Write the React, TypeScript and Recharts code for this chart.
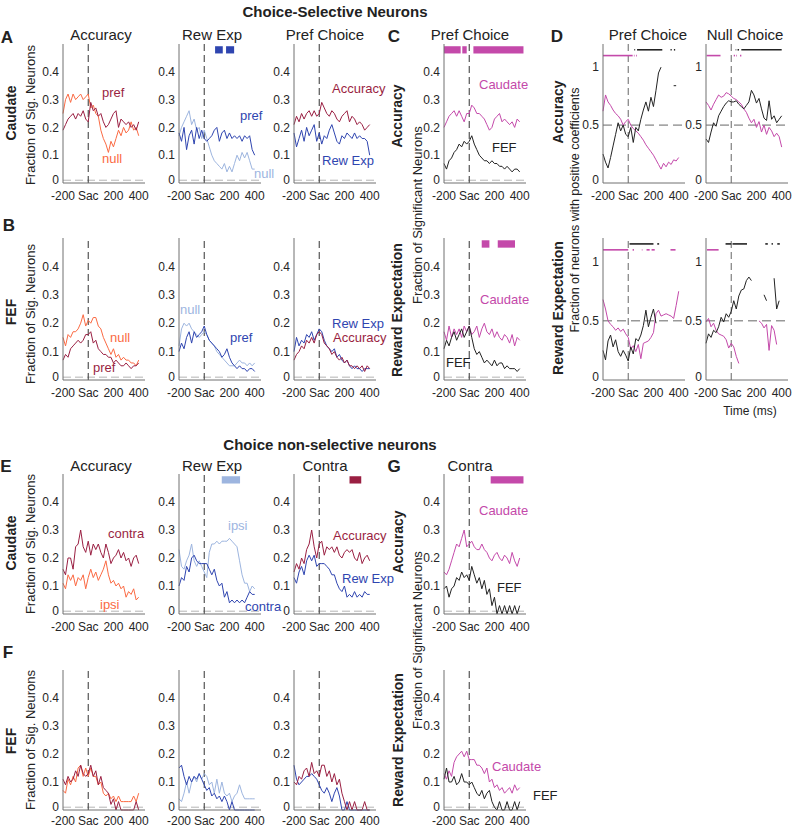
import React from 'react';
import { LineChart, Line, XAxis, YAxis, ReferenceLine, ReferenceArea } from 'recharts';

// time bins (ms from saccade)
const TIMES = [-200, -180, -160, -140, -120, -100, -80, -60, -40, -20, 0, 20, 40, 60, 80, 100, 120, 140, 160, 180, 200, 220, 240, 260, 280, 300, 320, 340, 360, 380, 400];
const X_TICKS = [-200, 0, 200, 400];
const FRAC_TICKS = [0, 0.1, 0.2, 0.3, 0.4];
const COEF_TICKS = [0, 0.5, 1];

// A: caudate, choice-selective
const accPrefCd = [0.19, 0.21, 0.23, 0.24, 0.25, 0.23, 0.25, 0.24, 0.26, 0.23, 0.22, 0.29, 0.26, 0.27, 0.24, 0.25, 0.22, 0.20, 0.21, 0.23, 0.25, 0.26, 0.20, 0.23, 0.22, 0.21, 0.22, 0.20, 0.21, 0.19, 0.22];
const accNullCd = [0.25, 0.30, 0.32, 0.29, 0.32, 0.30, 0.31, 0.32, 0.30, 0.31, 0.32, 0.27, 0.28, 0.25, 0.24, 0.19, 0.16, 0.14, 0.11, 0.15, 0.13, 0.16, 0.19, 0.17, 0.20, 0.18, 0.19, 0.22, 0.19, 0.20, 0.17];
const rewPrefCd = [0.18, 0.15, 0.20, 0.12, 0.17, 0.19, 0.14, 0.20, 0.16, 0.19, 0.16, 0.15, 0.16, 0.17, 0.19, 0.20, 0.15, 0.18, 0.19, 0.16, 0.18, 0.16, 0.17, 0.16, 0.17, 0.15, 0.17, 0.16, 0.17, 0.12, 0.10];
const rewNullCd = [0.17, 0.20, 0.22, 0.24, 0.26, 0.21, 0.23, 0.19, 0.20, 0.16, 0.19, 0.16, 0.13, 0.10, 0.08, 0.07, 0.06, 0.05, 0.07, 0.04, 0.06, 0.04, 0.07, 0.10, 0.08, 0.11, 0.09, 0.11, 0.08, 0.05, 0.05];
const prefAccCd = [0.21, 0.24, 0.22, 0.25, 0.23, 0.25, 0.26, 0.24, 0.26, 0.24, 0.25, 0.29, 0.27, 0.25, 0.24, 0.26, 0.25, 0.23, 0.22, 0.24, 0.25, 0.26, 0.22, 0.24, 0.23, 0.21, 0.22, 0.21, 0.19, 0.20, 0.21];
const prefRewCd = [0.18, 0.13, 0.16, 0.19, 0.15, 0.20, 0.17, 0.19, 0.21, 0.15, 0.18, 0.14, 0.17, 0.16, 0.19, 0.21, 0.18, 0.15, 0.14, 0.17, 0.16, 0.18, 0.17, 0.16, 0.18, 0.16, 0.17, 0.16, 0.16, 0.15, 0.10];

// B: FEF, choice-selective
const accNullFef = [0.15, 0.12, 0.16, 0.15, 0.17, 0.17, 0.18, 0.20, 0.23, 0.19, 0.21, 0.20, 0.22, 0.22, 0.19, 0.18, 0.15, 0.13, 0.11, 0.09, 0.11, 0.08, 0.09, 0.07, 0.08, 0.07, 0.07, 0.06, 0.06, 0.05, 0.07];
const accPrefFef = [0.07, 0.09, 0.08, 0.11, 0.12, 0.13, 0.14, 0.13, 0.14, 0.16, 0.16, 0.17, 0.13, 0.14, 0.11, 0.10, 0.09, 0.09, 0.08, 0.08, 0.06, 0.07, 0.06, 0.05, 0.05, 0.06, 0.05, 0.04, 0.05, 0.05, 0.06];
const rewNullFef = [0.12, 0.18, 0.20, 0.19, 0.20, 0.18, 0.17, 0.16, 0.15, 0.16, 0.17, 0.16, 0.14, 0.13, 0.12, 0.10, 0.09, 0.08, 0.07, 0.06, 0.05, 0.05, 0.05, 0.06, 0.07, 0.06, 0.06, 0.05, 0.06, 0.05, 0.06];
const rewPrefFef = [0.10, 0.13, 0.11, 0.15, 0.17, 0.13, 0.17, 0.15, 0.16, 0.17, 0.19, 0.16, 0.14, 0.13, 0.12, 0.11, 0.10, 0.08, 0.09, 0.11, 0.08, 0.06, 0.05, 0.04, 0.05, 0.04, 0.04, 0.03, 0.04, 0.04, 0.03];
const prefRewFef = [0.10, 0.15, 0.12, 0.14, 0.13, 0.16, 0.15, 0.17, 0.14, 0.16, 0.18, 0.17, 0.14, 0.12, 0.11, 0.10, 0.11, 0.08, 0.09, 0.07, 0.06, 0.07, 0.05, 0.04, 0.05, 0.04, 0.04, 0.03, 0.04, 0.04, 0.04];
const prefAccFef = [0.07, 0.09, 0.10, 0.12, 0.11, 0.14, 0.13, 0.15, 0.13, 0.16, 0.17, 0.16, 0.13, 0.12, 0.11, 0.09, 0.10, 0.08, 0.07, 0.08, 0.06, 0.07, 0.05, 0.05, 0.04, 0.05, 0.04, 0.05, 0.03, 0.05, 0.04];

// C: pref choice, caudate vs FEF
const cAccCd = [0.20, 0.22, 0.24, 0.25, 0.26, 0.24, 0.26, 0.24, 0.22, 0.25, 0.25, 0.28, 0.27, 0.25, 0.25, 0.24, 0.23, 0.21, 0.19, 0.20, 0.23, 0.24, 0.25, 0.22, 0.23, 0.22, 0.21, 0.22, 0.20, 0.23, 0.22];
const cAccFef = [0.07, 0.05, 0.08, 0.09, 0.11, 0.12, 0.14, 0.13, 0.15, 0.14, 0.15, 0.17, 0.14, 0.12, 0.10, 0.09, 0.08, 0.08, 0.07, 0.08, 0.07, 0.07, 0.06, 0.06, 0.05, 0.06, 0.05, 0.04, 0.05, 0.05, 0.04];
const cRewCd = [0.17, 0.14, 0.19, 0.15, 0.18, 0.16, 0.18, 0.15, 0.19, 0.17, 0.19, 0.16, 0.17, 0.19, 0.15, 0.18, 0.20, 0.17, 0.16, 0.18, 0.15, 0.17, 0.15, 0.14, 0.16, 0.15, 0.13, 0.16, 0.12, 0.15, 0.14];
const cRewFef = [0.11, 0.14, 0.12, 0.15, 0.17, 0.14, 0.16, 0.18, 0.15, 0.17, 0.19, 0.15, 0.11, 0.09, 0.10, 0.08, 0.06, 0.07, 0.06, 0.05, 0.07, 0.05, 0.06, 0.06, 0.04, 0.05, 0.04, 0.04, 0.04, 0.03, 0.04];

// D: fraction with positive coefficients
const dPrefAccCd = [0.62, 0.76, 0.70, 0.67, 0.63, 0.60, 0.58, 0.55, 0.50, 0.53, 0.55, 0.50, 0.47, 0.45, 0.43, 0.40, 0.37, 0.33, 0.30, 0.27, 0.24, 0.20, 0.16, 0.12, 0.17, 0.14, 0.18, 0.16, 0.20, 0.19, 0.22];
const dPrefAccFef = [0.25, 0.18, 0.13, 0.22, 0.32, 0.42, 0.52, 0.45, 0.50, 0.42, 0.40, 0.48, 0.35, 0.48, 0.45, 0.55, 0.63, 0.70, 0.62, 0.74, 0.66, 0.80, 0.95, 1.0, null, null, null, null, 0.84, 0.84, null];
const dNullAccCd = [0.70, 0.67, 0.63, 0.68, 0.72, 0.76, 0.74, 0.75, 0.78, 0.77, 0.75, 0.73, 0.72, 0.70, 0.68, 0.64, 0.61, 0.56, 0.52, 0.55, 0.48, 0.53, 0.44, 0.50, 0.42, 0.48, 0.45, 0.40, 0.43, 0.40, 0.31];
const dNullAccFef = [0.38, 0.35, 0.44, 0.52, 0.49, 0.58, 0.62, 0.66, 0.69, 0.71, 0.70, 0.70, 0.71, 0.68, 0.66, 0.64, 0.67, 0.70, 0.80, 0.76, 0.69, 0.73, 0.64, 0.56, 0.54, 0.71, 0.55, 0.58, 0.52, 0.55, 0.58];
const dPrefRewCd = [0.68, 0.60, 0.50, 0.47, 0.45, 0.42, 0.44, 0.41, 0.43, 0.39, 0.36, 0.26, 0.29, 0.24, 0.30, 0.18, 0.31, 0.32, 0.33, 0.36, 0.40, 0.56, 0.59, 0.54, 0.55, 0.56, 0.55, 0.54, 0.52, 0.63, 0.75];
const dPrefRewFef = [0.25, 0.17, 0.33, 0.38, 0.28, 0.34, 0.24, 0.20, 0.25, 0.21, 0.16, 0.28, 0.22, 0.35, 0.33, 0.38, 0.46, 0.59, 0.45, 0.53, 0.60, 0.48, null, null, null, null, null, null, null, null, null];
const dNullRewCd = [0.49, 0.52, 0.45, 0.48, 0.42, 0.39, 0.38, 0.37, 0.34, 0.27, 0.31, 0.28, 0.20, 0.14, null, null, null, null, null, null, null, 0.50, 0.48, 0.44, 0.47, 0.25, 0.46, 0.42, 0.30, null, null];
const dNullRewFef = [0.31, 0.39, 0.36, 0.42, 0.40, 0.45, 0.53, 0.49, 0.56, 0.53, 0.58, 0.67, 0.60, 0.71, 0.76, 0.77, 0.84, 0.87, 0.84, null, null, null, null, 0.72, 0.67, null, null, 0.86, 0.60, 0.67, null];

// D significance runs [start, end] in ms
const dPrefAccSigCd = [[-200, 35], [45, 50], [62, 68]];
const dPrefAccSigFef = [[48, 55], [70, 270], [335, 345], [362, 372]];
const dNullAccSigCd = [[-195, -85], [20, 30], [40, 45], [70, 80]];
const dNullAccSigFef = [[35, 40], [50, 62], [80, 400]];
const dPrefRewSigCd = [[-200, 0], [35, 45], [108, 112], [145, 170], [185, 210], [335, 375]];
const dPrefRewSigFef = [[10, 200], [230, 245]];
const dNullRewSigCd = [[-192, -100]];
const dNullRewSigFef = [[-45, 0], [10, 125], [270, 290], [320, 330], [365, 385]];

// E: caudate, choice non-selective
const eAccContra = [0.16, 0.14, 0.20, 0.20, 0.16, 0.24, 0.25, 0.30, 0.24, 0.22, 0.26, 0.21, 0.25, 0.23, 0.25, 0.22, 0.20, 0.25, 0.22, 0.18, 0.20, 0.21, 0.23, 0.20, 0.22, 0.19, 0.20, 0.17, 0.20, 0.21, 0.18];
const eAccIpsi = [0.11, 0.09, 0.14, 0.12, 0.14, 0.10, 0.13, 0.12, 0.14, 0.09, 0.13, 0.16, 0.13, 0.15, 0.12, 0.14, 0.16, 0.19, 0.14, 0.11, 0.12, 0.10, 0.11, 0.09, 0.10, 0.06, 0.08, 0.07, 0.09, 0.05, 0.06];
const eRewIpsi = [0.23, 0.17, 0.16, 0.19, 0.21, 0.25, 0.19, 0.17, 0.19, 0.17, 0.15, 0.13, 0.22, 0.25, 0.25, 0.26, 0.25, 0.26, 0.26, 0.26, 0.27, 0.26, 0.25, 0.24, 0.19, 0.14, 0.11, 0.11, 0.08, 0.10, 0.09];
const eRewContra = [0.10, 0.13, 0.12, 0.17, 0.15, 0.20, 0.21, 0.19, 0.18, 0.18, 0.18, 0.18, 0.16, 0.14, 0.16, 0.12, 0.10, 0.11, 0.06, 0.08, 0.04, 0.05, 0.04, 0.05, 0.04, 0.05, 0.04, 0.06, 0.08, 0.07, 0.07];
const eConAcc = [0.15, 0.18, 0.16, 0.20, 0.18, 0.23, 0.25, 0.30, 0.24, 0.20, 0.25, 0.26, 0.21, 0.24, 0.23, 0.24, 0.22, 0.24, 0.21, 0.20, 0.22, 0.23, 0.22, 0.23, 0.20, 0.19, 0.22, 0.18, 0.20, 0.21, 0.19];
const eConRew = [0.13, 0.11, 0.15, 0.17, 0.14, 0.19, 0.21, 0.19, 0.21, 0.17, 0.18, 0.18, 0.18, 0.17, 0.16, 0.14, 0.14, 0.11, 0.09, 0.08, 0.10, 0.06, 0.07, 0.06, 0.08, 0.06, 0.07, 0.06, 0.08, 0.07, 0.07];

// F: FEF, choice non-selective
const fAccIpsi = [0.07, 0.06, 0.11, 0.09, 0.12, 0.10, 0.15, 0.16, 0.12, 0.15, 0.12, 0.15, 0.12, 0.12, 0.09, 0.10, 0.06, 0.05, 0.06, 0.04, 0.05, 0.03, 0.05, 0.03, 0.03, 0.03, 0.03, 0.03, 0.05, 0.03, 0.06];
const fAccContra = [0.11, 0.09, 0.12, 0.10, 0.11, 0.14, 0.12, 0.16, 0.13, 0.12, 0.13, 0.16, 0.12, 0.14, 0.09, 0.12, 0.08, 0.07, 0.06, 0.02, 0.04, 0.00, 0.03, 0.00, 0.00, 0.00, 0.00, 0.00, 0.00, 0.03, 0.00];
const fRewContra = [0.15, 0.16, 0.12, 0.09, 0.12, 0.10, 0.12, 0.11, 0.13, 0.11, 0.09, 0.07, 0.08, 0.05, 0.06, 0.04, 0.05, 0.03, 0.05, 0.03, 0.00, 0.03, 0.00, 0.00, 0.00, 0.00, 0.00, 0.00, 0.00, 0.00, 0.00];
const fRewIpsi = [0.04, 0.03, 0.06, 0.10, 0.06, 0.10, 0.12, 0.10, 0.13, 0.11, 0.13, 0.12, 0.09, 0.10, 0.06, 0.11, 0.06, 0.10, 0.06, 0.05, 0.06, 0.03, 0.05, 0.06, 0.09, 0.06, 0.04, 0.04, 0.04, 0.04, 0.04];
const fConAcc = [0.10, 0.09, 0.12, 0.11, 0.14, 0.15, 0.12, 0.17, 0.13, 0.14, 0.12, 0.16, 0.16, 0.12, 0.14, 0.10, 0.13, 0.09, 0.11, 0.06, 0.03, 0.00, 0.03, 0.00, 0.03, 0.00, 0.00, 0.00, 0.03, 0.00, 0.00];
const fConRew = [0.16, 0.11, 0.09, 0.10, 0.11, 0.12, 0.12, 0.13, 0.12, 0.11, 0.09, 0.07, 0.06, 0.08, 0.06, 0.03, 0.06, 0.08, 0.05, 0.00, 0.00, 0.03, 0.00, 0.00, 0.00, 0.00, 0.00, 0.00, 0.00, 0.00, 0.00];

// G: contra, caudate vs FEF
const gAccCd = [0.15, 0.14, 0.16, 0.19, 0.22, 0.25, 0.24, 0.27, 0.30, 0.24, 0.25, 0.26, 0.24, 0.23, 0.23, 0.25, 0.23, 0.22, 0.20, 0.19, 0.21, 0.22, 0.20, 0.19, 0.21, 0.20, 0.18, 0.22, 0.19, 0.17, 0.20];
const gAccFef = [0.09, 0.10, 0.06, 0.09, 0.10, 0.13, 0.12, 0.15, 0.13, 0.14, 0.12, 0.17, 0.14, 0.11, 0.13, 0.09, 0.12, 0.07, 0.09, 0.03, 0.06, 0.00, 0.03, 0.00, 0.03, 0.00, 0.03, 0.00, 0.03, 0.00, 0.03];
const gRewCd = [0.13, 0.11, 0.14, 0.12, 0.17, 0.19, 0.20, 0.21, 0.19, 0.21, 0.18, 0.18, 0.18, 0.16, 0.16, 0.15, 0.13, 0.15, 0.10, 0.11, 0.08, 0.09, 0.07, 0.08, 0.06, 0.07, 0.08, 0.06, 0.09, 0.07, 0.08];
const gRewFef = [0.11, 0.15, 0.10, 0.10, 0.12, 0.09, 0.10, 0.13, 0.10, 0.10, 0.09, 0.10, 0.08, 0.06, 0.05, 0.07, 0.04, 0.06, 0.07, 0.03, 0.01, 0.00, 0.03, 0.00, 0.00, 0.03, 0.00, 0.00, 0.03, 0.00, 0.03];

// significance bars [start, end] in ms
const aRewBars = [[86, 147], [173, 237]];
const cAccBars = [[-200, -68], [-55, -20], [33, 430]];
const cRewBars = [[99, 160], [226, 363]];
const eRewBars = [[139, 284]];
const eConBars = [[240, 333]];
const gAccBars = [[170, 430]];

const RED = '#9a1f42';
const ORANGE = '#fb6a43';
const BLUE = '#2f45b0';
const LIGHT = '#9db5df';
const MAGENTA = '#c449aa';
const BLACK = '#222';
const AXIS = '#707070';

const PW = 82;
const YW = 34;
const XH = 26;
const RM = 6;
const FONT = '"Liberation Sans", Arial, Helvetica, sans-serif';

const xFmt = (v: number) => (v === 0 ? 'Sac' : String(v));

// y tick label; the 0 label sits a touch higher so it clears the x labels
const YTick = ({ x, y, payload }: any) => (
  <text x={x} y={payload.value === 0 ? y - 3 : y} dy="0.35em" textAnchor="end" fontSize={12} fill="#262626">
    {String(payload.value)}
  </text>
);

type Ln = { v: (number | null)[]; c: string };

function Panel({ x, y, h, lines, yMax = 0.5, yTicks = FRAC_TICKS, sac = true, sacColor = '#333', base = 'chance', bars = [], barColor = BLUE, sig = [], tm = 5 }: any) {
  const data = TIMES.map((t, i) => {
    const r: any = { t };
    lines.forEach((l: Ln, j: number) => {
      r['s' + j] = l.v[i];
    });
    return r;
  });
  return (
    <div style={{ position: 'absolute', left: x - YW, top: y }}>
      <LineChart width={YW + PW + RM} height={h + XH} data={data} margin={{ top: 0, right: RM, bottom: 0, left: 0 }}>
        <XAxis dataKey="t" type="number" domain={[-200, 450]} ticks={X_TICKS} interval={0} tickFormatter={xFmt}
          stroke={AXIS} tick={{ fontSize: 12, fill: '#262626' }} tickSize={3} tickMargin={tm} tickLine={false} height={XH} />
        <YAxis type="number" domain={[0, yMax]} ticks={yTicks} interval={0}
          stroke={AXIS} tick={<YTick />} tickSize={2} tickLine={false} width={YW} />
        {base === 'chance' && <ReferenceLine y={0.01} stroke="#b4b4b4" strokeDasharray="8 4" />}
        {base === 'half' && <ReferenceLine y={0.5} stroke="#666" strokeDasharray="9 5" />}
        {sac && <ReferenceLine x={0} stroke={sacColor} strokeDasharray="7 4" />}
        {bars.map((b: number[], i: number) => (
          <ReferenceArea key={'b' + i} x1={b[0]} x2={b[1]} y1={0.466} y2={0.492} fill={barColor} fillOpacity={1} stroke="none" />
        ))}
        {sig.map((s: any, i: number) => (
          <ReferenceLine key={'g' + i} segment={[{ x: s.a, y: s.y }, { x: s.b, y: s.y }]} stroke={s.c} strokeWidth={1.6} />
        ))}
        {lines.map((l: Ln, j: number) => (
          <Line key={j} dataKey={'s' + j} type="linear" stroke={l.c} strokeWidth={1} dot={false} isAnimationActive={false} connectNulls={false} />
        ))}
      </LineChart>
    </div>
  );
}

const sigRuns = (runs: number[][], y: number, c: string) => runs.map((r) => ({ a: r[0], b: r[1], y, c }));

function T({ x, y, s, size = 13, bold = false, color = '#222', rot = false, center = true }: any) {
  const tx = center ? '-50%' : '0';
  return (
    <div style={{ position: 'absolute', left: x, top: y, fontSize: size, fontWeight: bold ? 700 : 400, color, whiteSpace: 'nowrap', lineHeight: 1, transform: `translate(${tx}, -50%)${rot ? ' rotate(-90deg)' : ''}` }}>
      {s}
    </div>
  );
}

const COL = [63, 179, 294];
const CX = 444;
const DX = [603, 706];
const ROW_A = { y: 44, h: 139 };
const ROW_B = { y: 238, h: 142 };
const ROW_E = { y: 474, h: 140 };
const ROW_F = { y: 670, h: 140 };

export default function App() {
  return (
    <div style={{ position: 'absolute', left: 0, top: 0, width: 796, height: 829, background: '#fff', fontFamily: FONT, overflow: 'hidden' }}>
      {/* headings */}
      <T x={335} y={11} s="Choice-Selective Neurons" size={15} bold />
      <T x={330} y={444} s="Choice non-selective neurons" size={15} bold />

      <T x={7} y={37} s="A" size={17} bold />
      <T x={9} y={225} s="B" size={17} bold />
      <T x={394} y={36} s="C" size={17} bold />
      <T x={557} y={36} s="D" size={17} bold />
      <T x={6} y={466} s="E" size={17} bold />
      <T x={8} y={652} s="F" size={17} bold />
      <T x={394} y={466} s="G" size={17} bold />

      <T x={101} y={34} s="Accuracy" size={15} />
      <T x={212} y={34} s="Rew Exp" size={15} />
      <T x={325} y={34} s="Pref Choice" size={15} />
      <T x={470} y={34} s="Pref Choice" size={15} />
      <T x={648} y={34} s="Pref Choice" size={15} />
      <T x={745} y={34} s="Null Choice" size={15} />
      <T x={101} y={465} s="Accuracy" size={15} />
      <T x={212} y={465} s="Rew Exp" size={15} />
      <T x={325} y={465} s="Contra" size={15} />
      <T x={470} y={465} s="Contra" size={15} />

      <T x={11} y={113} s="Caudate" size={14} bold rot />
      <T x={30} y={115} s="Fraction of Sig. Neurons" rot />
      <T x={11} y={312} s="FEF" size={14} bold rot />
      <T x={30} y={314} s="Fraction of Sig. Neurons" rot />
      <T x={11} y={543} s="Caudate" size={14} bold rot />
      <T x={30} y={544} s="Fraction of Sig. Neurons" rot />
      <T x={11} y={741} s="FEF" size={14} bold rot />
      <T x={30} y={740} s="Fraction of Sig. Neurons" rot />

      <T x={397} y={116} s="Accuracy" size={14} bold rot />
      <T x={397} y={310} s="Reward Expectation" size={14} bold rot />
      <T x={417} y={215} s="Fraction of Significant Neurons" rot />
      <T x={398} y={542} s="Accuracy" size={14} bold rot />
      <T x={398} y={740} s="Reward Expectation" size={14} bold rot />
      <T x={417} y={640} s="Fraction of Significant Neurons" rot />

      <T x={558} y={112} s="Accuracy" size={14} bold rot />
      <T x={558} y={308} s="Reward Expectation" size={14} bold rot />
      <T x={575} y={210} s="Fraction of neurons with positive coefficients" size={12.5} rot />
      <T x={750} y={411} s="Time (ms)" size={12} />

      {/* row A */}
      <Panel x={COL[0]} y={ROW_A.y} h={ROW_A.h} lines={[{ v: accNullCd, c: ORANGE }, { v: accPrefCd, c: RED }]} />
      <Panel x={COL[1]} y={ROW_A.y} h={ROW_A.h} lines={[{ v: rewNullCd, c: LIGHT }, { v: rewPrefCd, c: BLUE }]} bars={aRewBars} barColor={BLUE} />
      <Panel x={COL[2]} y={ROW_A.y} h={ROW_A.h} lines={[{ v: prefAccCd, c: RED }, { v: prefRewCd, c: BLUE }]} />
      <Panel x={CX} y={ROW_A.y} h={ROW_A.h} lines={[{ v: cAccCd, c: MAGENTA }, { v: cAccFef, c: BLACK }]} bars={cAccBars} barColor={MAGENTA} />
      <Panel x={DX[0]} y={ROW_A.y} h={ROW_A.h} yMax={1.2} yTicks={COEF_TICKS} base="half" sacColor="#666"
        lines={[{ v: dPrefAccCd, c: MAGENTA }, { v: dPrefAccFef, c: BLACK }]}
        sig={[...sigRuns(dPrefAccSigCd, 1.1, MAGENTA), ...sigRuns(dPrefAccSigFef, 1.15, BLACK)]} />
      <Panel x={DX[1]} y={ROW_A.y} h={ROW_A.h} yMax={1.2} yTicks={COEF_TICKS} base="half" sacColor="#666"
        lines={[{ v: dNullAccCd, c: MAGENTA }, { v: dNullAccFef, c: BLACK }]}
        sig={[...sigRuns(dNullAccSigCd, 1.1, MAGENTA), ...sigRuns(dNullAccSigFef, 1.15, BLACK)]} />

      {/* row B */}
      <Panel x={COL[0]} y={ROW_B.y} h={ROW_B.h} lines={[{ v: accNullFef, c: ORANGE }, { v: accPrefFef, c: RED }]} />
      <Panel x={COL[1]} y={ROW_B.y} h={ROW_B.h} lines={[{ v: rewNullFef, c: LIGHT }, { v: rewPrefFef, c: BLUE }]} />
      <Panel x={COL[2]} y={ROW_B.y} h={ROW_B.h} lines={[{ v: prefRewFef, c: BLUE }, { v: prefAccFef, c: RED }]} />
      <Panel x={CX} y={ROW_B.y} h={ROW_B.h} lines={[{ v: cRewCd, c: MAGENTA }, { v: cRewFef, c: BLACK }]} bars={cRewBars} barColor={MAGENTA} />
      <Panel x={DX[0]} y={ROW_B.y} h={ROW_B.h} yMax={1.2} yTicks={COEF_TICKS} base="half" sacColor="#666"
        lines={[{ v: dPrefRewCd, c: MAGENTA }, { v: dPrefRewFef, c: BLACK }]}
        sig={[...sigRuns(dPrefRewSigCd, 1.1, MAGENTA), ...sigRuns(dPrefRewSigFef, 1.15, BLACK)]} />
      <Panel x={DX[1]} y={ROW_B.y} h={ROW_B.h} yMax={1.2} yTicks={COEF_TICKS} base="half" sacColor="#666"
        lines={[{ v: dNullRewCd, c: MAGENTA }, { v: dNullRewFef, c: BLACK }]}
        sig={[...sigRuns(dNullRewSigCd, 1.1, MAGENTA), ...sigRuns(dNullRewSigFef, 1.15, BLACK)]} />

      {/* row E */}
      <Panel x={COL[0]} y={ROW_E.y} h={ROW_E.h} sac={false} lines={[{ v: eAccIpsi, c: ORANGE }, { v: eAccContra, c: RED }]} />
      <Panel x={COL[1]} y={ROW_E.y} h={ROW_E.h} lines={[{ v: eRewIpsi, c: LIGHT }, { v: eRewContra, c: BLUE }]} bars={eRewBars} barColor={LIGHT} />
      <Panel x={COL[2]} y={ROW_E.y} h={ROW_E.h} lines={[{ v: eConAcc, c: RED }, { v: eConRew, c: BLUE }]} bars={eConBars} barColor={RED} />
      <Panel x={CX} y={ROW_E.y} h={ROW_E.h} lines={[{ v: gAccCd, c: MAGENTA }, { v: gAccFef, c: BLACK }]} bars={gAccBars} barColor={MAGENTA} />

      {/* row F */}
      <Panel x={COL[0]} y={ROW_F.y} h={ROW_F.h} tm={3} lines={[{ v: fAccIpsi, c: ORANGE }, { v: fAccContra, c: RED }]} />
      <Panel x={COL[1]} y={ROW_F.y} h={ROW_F.h} tm={3} lines={[{ v: fRewIpsi, c: LIGHT }, { v: fRewContra, c: BLUE }]} />
      <Panel x={COL[2]} y={ROW_F.y} h={ROW_F.h} tm={3} lines={[{ v: fConRew, c: BLUE }, { v: fConAcc, c: RED }]} />
      <Panel x={CX} y={ROW_F.y} h={ROW_F.h} tm={3} lines={[{ v: gRewCd, c: MAGENTA }, { v: gRewFef, c: BLACK }]} />

      {/* in-plot labels */}
      <T x={102} y={92} s="pref" color={RED} center={false} />
      <T x={102} y={158} s="null" color={ORANGE} center={false} />
      <T x={240} y={115} s="pref" color={BLUE} center={false} />
      <T x={254} y={173} s="null" color={LIGHT} center={false} />
      <T x={332} y={88} s="Accuracy" color={RED} center={false} />
      <T x={322} y={160} s="Rew Exp" color={BLUE} center={false} />
      <T x={479} y={84} s="Caudate" color={MAGENTA} center={false} />
      <T x={492} y={147} s="FEF" color={BLACK} center={false} />

      <T x={110} y={337} s="null" color={ORANGE} center={false} />
      <T x={93} y={367} s="pref" color={RED} center={false} />
      <T x={180} y={309} s="null" color={LIGHT} center={false} />
      <T x={230} y={337} s="pref" color={BLUE} center={false} />
      <T x={332} y={323} s="Rew Exp" color={BLUE} center={false} />
      <T x={333} y={337} s="Accuracy" color={RED} center={false} />
      <T x={480} y={299} s="Caudate" color={MAGENTA} center={false} />
      <T x={446} y={362} s="FEF" color={BLACK} center={false} />

      <T x={108} y={533} s="contra" color={RED} center={false} />
      <T x={100} y={604} s="ipsi" color={ORANGE} center={false} />
      <T x={228} y={525} s="ipsi" color={LIGHT} center={false} />
      <T x={245} y={606} s="contra" color={BLUE} center={false} />
      <T x={333} y={535} s="Accuracy" color={RED} center={false} />
      <T x={342} y={578} s="Rew Exp" color={BLUE} center={false} />
      <T x={479} y={510} s="Caudate" color={MAGENTA} center={false} />
      <T x={497} y={587} s="FEF" color={BLACK} center={false} />
      <T x={492} y={766} s="Caudate" color={MAGENTA} center={false} />
      <T x={533} y={795} s="FEF" color={BLACK} center={false} />
    </div>
  );
}
